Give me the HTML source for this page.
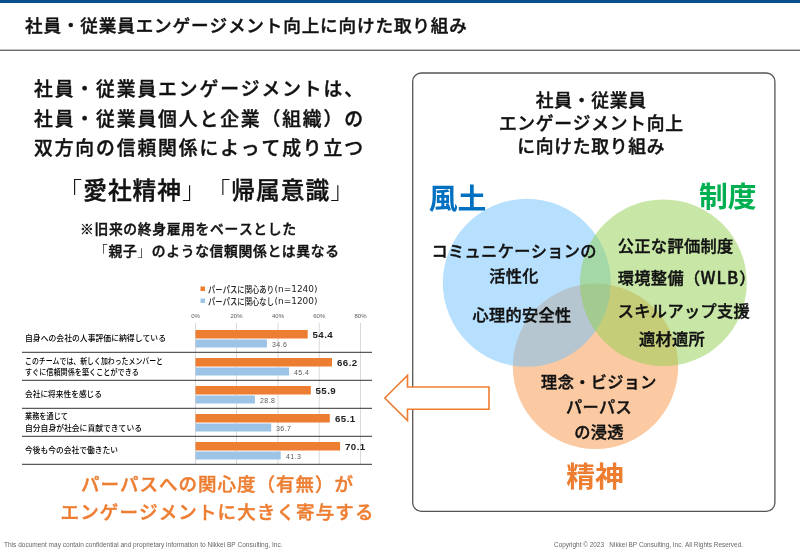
<!DOCTYPE html>
<html lang="ja">
<head>
<meta charset="utf-8">
<title>社員・従業員エンゲージメント向上に向けた取り組み</title>
<style>
html,body{margin:0;padding:0;background:#fff;}
body{width:800px;height:552px;overflow:hidden;position:relative;}
svg{position:absolute;left:0;top:0;display:block;}
svg{fill:#111;}
text{font-family:"Liberation Sans","Noto Sans CJK JP",sans-serif;text-spacing-trim:space-all;font-kerning:none;}
.l{font-weight:300;stroke:none;}
.m{font-weight:500;stroke:#111;stroke-width:0.42px;paint-order:stroke;}
.b{font-weight:700;}
.o{fill:#ed7d31;stroke:#ed7d31;}
.k{font-weight:500;}
.nj{font-family:"Noto Sans CJK JP","Liberation Sans",sans-serif;}
.dv{font-family:"DejaVu Sans","Liberation Sans",sans-serif;}
.c{text-anchor:middle;}
.ch{font-family:"Liberation Sans","Noto Sans CJK JP",sans-serif;}
</style>
</head>
<body>
<svg width="800" height="552" viewBox="0 0 800 552">
<rect x="0" y="0" width="800" height="552" fill="#fff"/>
<!-- header -->
<rect x="0" y="0" width="800" height="3" fill="#0b4e8f"/>
<text class="m" x="25" y="31.7" font-size="17.6" letter-spacing="0.85">社員・従業員エンゲージメント向上に向けた取り組み</text>
<rect x="0" y="49.7" width="800" height="1" fill="#333"/>

<!-- left heading -->
<g class="m" font-size="18.8" letter-spacing="1.9">
<text x="34" y="96">社員・従業員エンゲージメントは、</text>
<text x="34" y="125.5">社員・従業員個人と企業（組織）の</text>
<text x="34" y="155">双方向の信頼関係によって成り立つ</text>
</g>
<text class="m" x="58.5" y="198.8" font-size="23.7" letter-spacing="1"><tspan class="l">「</tspan>愛社精神<tspan class="l">」「</tspan>帰属意識<tspan class="l">」</tspan></text>
<g class="m" font-size="13.8" letter-spacing="0.65">
<text x="80" y="233.7">※旧来の終身雇用をベースとした</text>
<text x="94" y="255.7"><tspan class="l">「</tspan>親子<tspan class="l">」</tspan>のような信頼関係とは異なる</text>
</g>

<!-- chart -->
<g id="chart">
<g stroke="#d9d9d9" stroke-width="1">
<line x1="195.5" y1="323" x2="195.5" y2="464"/>
<line x1="236.5" y1="323" x2="236.5" y2="464"/>
<line x1="278" y1="323" x2="278" y2="464"/>
<line x1="319.25" y1="323" x2="319.25" y2="464"/>
<line x1="360.5" y1="323" x2="360.5" y2="464"/>
</g>
<g fill="#595959" font-size="6" class="c">
<text x="195.5" y="317.5" fill="#595959">0%</text>
<text x="236.5" y="317.5" fill="#595959">20%</text>
<text x="278" y="317.5" fill="#595959">40%</text>
<text x="319.25" y="317.5" fill="#595959">60%</text>
<text x="360.5" y="317.5" fill="#595959">80%</text>
</g>
<!-- legend -->
<rect x="200.5" y="286.5" width="4.5" height="4.5" fill="#ed7d31"/>
<text class="k" x="208" y="292.5" font-size="9" textLength="66" lengthAdjust="spacingAndGlyphs" fill="#222">パーパスに関心あり</text>
<text class="dv" x="274.5" y="292.3" font-size="8.6" textLength="43" lengthAdjust="spacingAndGlyphs" fill="#222">(n=1240)</text>
<rect x="200.5" y="298.5" width="4.5" height="4.5" fill="#9dc3e6"/>
<text class="k" x="208" y="304.5" font-size="9" textLength="66" lengthAdjust="spacingAndGlyphs" fill="#222">パーパスに関心なし</text>
<text class="dv" x="274.5" y="304.3" font-size="8.6" textLength="43" lengthAdjust="spacingAndGlyphs" fill="#222">(n=1200)</text>
<!-- bars -->
<g fill="#ed7d31">
<rect x="195.5" y="330" width="112.2" height="8.5"/>
<rect x="195.5" y="358" width="136.5" height="8.5"/>
<rect x="195.5" y="386" width="115.3" height="8.5"/>
<rect x="195.5" y="414" width="134.3" height="8.5"/>
<rect x="195.5" y="442" width="144.6" height="8.5"/>
</g>
<g fill="#9dc3e6">
<rect x="195.5" y="339.5" width="71.4" height="8"/>
<rect x="195.5" y="367.5" width="93.6" height="8"/>
<rect x="195.5" y="395.5" width="59.4" height="8"/>
<rect x="195.5" y="423.5" width="75.7" height="8"/>
<rect x="195.5" y="451.5" width="85.2" height="8"/>
</g>
<g class="b" font-size="9.7" letter-spacing="0.45" fill="#222">
<text x="312.5" y="338">54.4</text>
<text x="337" y="366">66.2</text>
<text x="315.5" y="394">55.9</text>
<text x="335" y="422">65.1</text>
<text x="345" y="450">70.1</text>
</g>
<g font-size="7" letter-spacing="0.45">
<text x="272" y="347" fill="#595959">34.6</text>
<text x="294" y="375" fill="#595959">45.4</text>
<text x="260" y="403" fill="#595959">28.8</text>
<text x="276" y="431" fill="#595959">36.7</text>
<text x="286" y="459" fill="#595959">41.3</text>
</g>
<g stroke="#333" stroke-width="1">
<line x1="22" y1="352.3" x2="372" y2="352.3"/>
<line x1="22" y1="380.3" x2="372" y2="380.3"/>
<line x1="22" y1="408.3" x2="372" y2="408.3"/>
<line x1="22" y1="436.3" x2="372" y2="436.3"/>
<line x1="22" y1="464.3" x2="372" y2="464.3"/>
</g>
<g class="k" font-size="8.5" fill="#000">
<text x="25" y="341" textLength="141" lengthAdjust="spacingAndGlyphs">自身への会社の人事評価に納得している</text>
<text x="25" y="364" textLength="138" lengthAdjust="spacingAndGlyphs">このチームでは、新しく加わったメンバーと</text>
<text x="25" y="375" textLength="114" lengthAdjust="spacingAndGlyphs">すぐに信頼関係を築くことができる</text>
<text x="25" y="396.5" textLength="77" lengthAdjust="spacingAndGlyphs">会社に将来性を感じる</text>
<text x="25" y="419" textLength="43" lengthAdjust="spacingAndGlyphs">業務を通じて</text>
<text x="25" y="431" textLength="117" lengthAdjust="spacingAndGlyphs">自分自身が社会に貢献できている</text>
<text x="25" y="453" textLength="93" lengthAdjust="spacingAndGlyphs">今後も今の会社で働きたい</text>
</g>
</g>

<!-- bottom orange text -->
<g class="m c o" font-size="18.5" letter-spacing="1.0">
<text x="217.5" y="491">パーパスへの関心度（有無）が</text>
<text x="217.6" y="518.6" letter-spacing="1.13">エンゲージメントに大きく寄与する</text>
</g>

<!-- right box -->
<rect x="412.7" y="73" width="362.2" height="438.3" rx="8.5" ry="8.5" fill="#fff" stroke="#555" stroke-width="1.3"/>
<g class="m c" font-size="17.8" letter-spacing="0.7">
<text x="591.3" y="107.3">社員・従業員</text>
<text x="591.3" y="130.2">エンゲージメント向上</text>
<text x="591.3" y="153.2">に向けた取り組み</text>
</g>
<circle cx="595.5" cy="366.3" r="82.7" fill="#f79646" fill-opacity="0.5"/>
<circle cx="526.8" cy="282.8" r="84" fill="#6fc1fd" fill-opacity="0.5"/>
<circle cx="663.4" cy="282.8" r="83.4" fill="#92d050" fill-opacity="0.5"/>

<text class="b" x="428.8" y="209.3" font-size="28.8" fill="#0070c0">風土</text>
<text class="b" x="699" y="207.3" font-size="28.8" fill="#00b050">制度</text>
<text class="b c" x="595" y="486.5" font-size="28.8" fill="#ed7d31">精神</text>

<g class="m" font-size="16.2" letter-spacing="0.35">
<text x="431.5" y="257">コミュニケーションの</text>
<text class="c" x="514" y="282">活性化</text>
<text class="c" x="522" y="321">心理的安全性</text>
<text x="617.8" y="252">公正な評価制度</text>
<text x="617.8" y="283.5">環境整備（<tspan class="nj" font-size="16.8" letter-spacing="1.1">WLB</tspan>）</text>
<text x="617.8" y="317">スキルアップ支援</text>
<text x="639" y="345">適材適所</text>
<text class="c" x="599" y="388">理念・ビジョン</text>
<text class="c" x="599" y="413">パーパス</text>
<text class="c" x="599" y="438">の浸透</text>
</g>

<!-- arrow -->
<path d="M384.8 398 L407.5 375.5 L407.5 387 L489 387 L489 409.3 L407.5 409.3 L407.5 420.5 Z" fill="#fff" stroke="#ed7d31" stroke-width="1.6" stroke-linejoin="miter"/>

<!-- footer -->
<text x="4" y="546.5" font-size="6.4" fill="#666" textLength="278.5" lengthAdjust="spacingAndGlyphs">This document may contain confidential and proprietary information to Nikkei BP Consulting, Inc.</text>
<text x="554" y="546.5" font-size="6.4" fill="#666" xml:space="preserve" textLength="189" lengthAdjust="spacingAndGlyphs">Copyright © 2023   Nikkei BP Consulting, Inc. All Rights Reserved.</text>
</svg>
</body>
</html>
